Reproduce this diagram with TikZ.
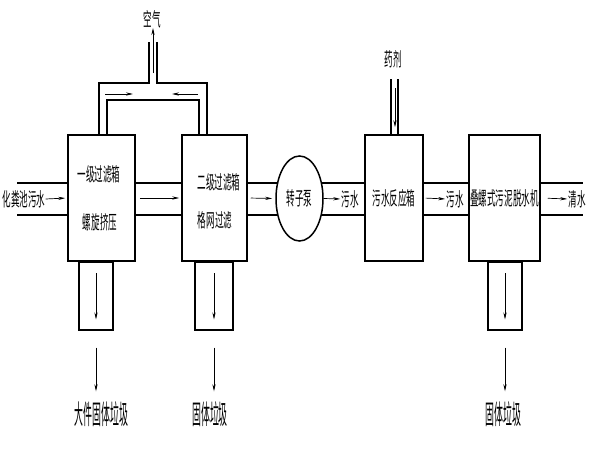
\documentclass[tikz,border=0pt]{standalone}
\usepackage{fontspec}
\newfontfamily\cjk[FakeStretch=0.45]{Noto Sans CJK SC}
\newfontfamily\cjkt[FakeStretch=0.33]{Noto Sans CJK SC}
\usetikzlibrary{arrows.meta,positioning,backgrounds,shapes.geometric}

\begin{document}
\begin{tikzpicture}[x=1pt,y=-1pt,
    >={Stealth[length=7pt,width=3.2pt]},line cap=rect,
    box/.style={draw,fill=white,line width=1.5pt,inner sep=0pt,
                minimum height=126pt,font=\fontsize{19}{20}\cjk},
    chute/.style={draw,fill=white,line width=1.5pt,inner sep=0pt,
                  minimum height=68pt,anchor=north},
    pump/.style={draw,fill=white,ellipse,line width=1.5pt,inner sep=0pt,
                 font=\fontsize{19}{20}\cjk},
    pipe/.style={line width=1.5pt},
    flow/.style={->,line width=0.7pt,line cap=butt},
    lbl/.style={font=\fontsize{19}{20}\cjk,inner sep=0pt},
    lblbig/.style={font=\fontsize{27}{28}\cjkt,inner sep=0pt}]
  \useasboundingbox (0,0) rectangle (600,450);
  % --- equipos
  \node[box,minimum width=67pt] (b1) at (101.5,198) {};
  \node[box,minimum width=65pt] (b2) at (214.5,198) {};
  \node[pump,minimum width=47pt,minimum height=85pt] (pump) at (299.5,198.5) {转子泵};
  \node[box,minimum width=58pt] (b3) at (394,198) {污水反应箱};
  \node[box,minimum width=71pt] (b4) at (504.5,198) {叠螺式污泥脱水机};
  \node[lbl] (t1a) at (99,174) {一级过滤箱};
  \node[lbl] (t1b) at (100,222) {螺旋挤压};
  \node[lbl] (t2a) at (219,182) {二级过滤箱};
  \node[lbl] (t2b) at (215,220) {格网过滤};
  % --- tubería principal
  \node[lbl] (in) at (24,199) {化粪池污水};
  \node[lbl] (w1) at (350,199) {污水};
  \node[lbl] (w2) at (455,199) {污水};
  \node[lbl] (qs) at (577,199) {清水};
  \coordinate (inl) at (17,199);
  \coordinate (outl) at (583,199);
  \coordinate (pt) at (0,183);
  \coordinate (pb) at (0,215);
  \begin{scope}[on background layer]
    \foreach \a/\b in {inl/b1,b1/b2,b2/pump,pump/b3,b3/b4,b4/outl}{
      \draw[pipe] (\a |- pt) -- (\b |- pt);
      \draw[pipe] (\a |- pb) -- (\b |- pb);
    }
  \end{scope}
  \draw[flow,shorten >=2pt] (in.east) -- (b1.west);
  \draw[flow,shorten <=4pt,shorten >=2pt] (b1.east) -- (b2.west);
  \draw[flow,shorten <=3pt,shorten >=3pt] (b2.east) -- (pump.west);
  \draw[flow,shorten >=1pt] (pump.east) -- (w1.west);
  \draw[flow,shorten <=2pt,shorten >=1pt] (b3.east) -- (w2.west);
  \draw[flow,shorten <=7pt,shorten >=1pt] (b4.east) -- (qs.west);
  % --- conducto de aire
  \node[lbl] (air) at (152,19) {空气};
  \draw[pipe] (b1.north -| 99,0) -- (99,83) -- (149,83) -- (149,43);
  \draw[pipe] (157,43) -- (157,83) -- (207,83) -- (b2.north -| 207,0);
  \draw[pipe] (b1.north -| 107,0) -- (107,100) -- (199,100) -- (b2.north -| 199,0);
  \draw[flow] (105,94) -- (133,94);
  \draw[flow] (198,94) -- (172,94);
  \coordinate (air0) at (153,73);
  \draw[flow] (air0) -- (air0 |- air.south);
  % --- dosificación de reactivo
  \node[lbl] (chem) at (393.5,59) {药剂};
  \draw[pipe,line width=1.2pt] (b3.north -| 391,0) -- (391,80);
  \draw[pipe,line width=1.2pt] (b3.north -| 398,0) -- (398,80);
  \coordinate (chem0) at (395,88);
  \draw[flow,shorten >=7pt] (chem0) -- (chem0 |- b3.north);
  % --- descarga de sólidos
  \node[chute,minimum width=34pt] (c1) at (96,261) {};
  \node[chute,minimum width=38pt] (c2) at (214,261) {};
  \node[chute,minimum width=34pt] (c4) at (505,261) {};
  \node[lblbig] (g1) at (101.5,414) {大件固体垃圾};
  \node[lblbig] (g2) at (210,414) {固体垃圾};
  \node[lblbig] (g4) at (503.5,414) {固体垃圾};
  \foreach \c/\g in {c1/g1,c2/g2,c4/g4}{
    \draw[flow] ([yshift=-12pt]\c.north) -- ([yshift=11pt]\c.south);
    \draw[flow,shorten >=10pt] ([yshift=-17pt]\c.south) -- (\c.south |- \g.north);
  }
\end{tikzpicture}
\end{document}
